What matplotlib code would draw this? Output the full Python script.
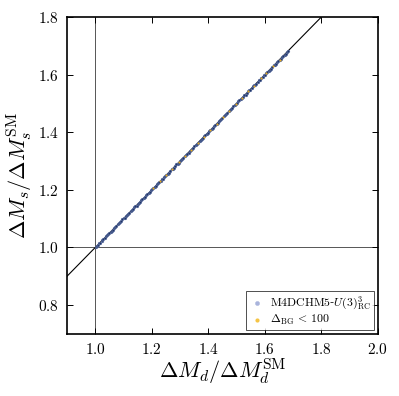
import matplotlib
matplotlib.use("Agg")
import matplotlib.pyplot as plt
import numpy as np

plt.rcParams['mathtext.fontset'] = 'cm'
plt.rcParams['font.family'] = 'serif'
plt.rcParams['font.serif'] = ['DejaVu Serif']

# All-scan points (M4DCHM5-U(3)^3_RC)
scan_x = [1.002, 1.006, 1.010, 1.014, 1.018, 1.022, 1.025, 1.029, 1.033, 1.037,
          1.041, 1.046, 1.050, 1.054, 1.058, 1.062, 1.066, 1.071, 1.075, 1.079,
          1.083, 1.088, 1.092, 1.096, 1.100, 1.104, 1.108, 1.113, 1.117, 1.121,
          1.125, 1.130, 1.134, 1.138, 1.142, 1.146, 1.150, 1.155, 1.159, 1.163,
          1.167, 1.172, 1.176, 1.180, 1.184, 1.189, 1.193, 1.197, 1.201, 1.206,
          1.210, 1.214, 1.218, 1.223, 1.227, 1.231, 1.235, 1.240, 1.244, 1.248,
          1.252, 1.257, 1.261, 1.266, 1.270, 1.274, 1.278, 1.283, 1.287, 1.291,
          1.295, 1.300, 1.304, 1.308, 1.312, 1.317, 1.321, 1.326, 1.330, 1.334,
          1.338, 1.343, 1.347, 1.351, 1.355, 1.360, 1.364, 1.369, 1.373, 1.377,
          1.381, 1.386, 1.390, 1.394, 1.398, 1.403, 1.407, 1.412, 1.416, 1.420,
          1.424, 1.429, 1.433, 1.437, 1.441, 1.446, 1.450, 1.455, 1.459, 1.463,
          1.467, 1.472, 1.476, 1.480, 1.484, 1.489, 1.493, 1.498, 1.502, 1.506,
          1.510, 1.515, 1.519, 1.523, 1.527, 1.532, 1.536, 1.541, 1.545, 1.549,
          1.553, 1.558, 1.562, 1.566, 1.570, 1.575, 1.579, 1.584, 1.588, 1.592,
          1.596, 1.601, 1.605, 1.609, 1.613, 1.618, 1.622, 1.627, 1.631, 1.635,
          1.639, 1.644, 1.648, 1.652, 1.656, 1.661, 1.665, 1.670, 1.674, 1.678,
          1.682]
scan_y = [1.003, 1.006, 1.010, 1.015, 1.017, 1.022, 1.026, 1.029, 1.033, 1.038,
          1.042, 1.045, 1.049, 1.055, 1.058, 1.061, 1.067, 1.071, 1.074, 1.080,
          1.084, 1.087, 1.091, 1.097, 1.101, 1.103, 1.108, 1.114, 1.116, 1.121,
          1.126, 1.129, 1.133, 1.139, 1.143, 1.145, 1.150, 1.156, 1.158, 1.163,
          1.168, 1.171, 1.175, 1.181, 1.185, 1.188, 1.192, 1.198, 1.202, 1.205,
          1.209, 1.215, 1.219, 1.222, 1.226, 1.232, 1.236, 1.239, 1.243, 1.249,
          1.253, 1.256, 1.260, 1.267, 1.271, 1.273, 1.277, 1.284, 1.288, 1.290,
          1.294, 1.301, 1.305, 1.307, 1.311, 1.318, 1.322, 1.325, 1.329, 1.335,
          1.339, 1.342, 1.346, 1.352, 1.356, 1.359, 1.363, 1.370, 1.374, 1.376,
          1.380, 1.387, 1.391, 1.393, 1.397, 1.404, 1.408, 1.411, 1.415, 1.421,
          1.425, 1.428, 1.432, 1.438, 1.442, 1.445, 1.449, 1.456, 1.460, 1.462,
          1.466, 1.473, 1.477, 1.479, 1.483, 1.490, 1.494, 1.497, 1.501, 1.507,
          1.511, 1.514, 1.518, 1.524, 1.528, 1.531, 1.535, 1.542, 1.546, 1.548,
          1.552, 1.559, 1.563, 1.565, 1.569, 1.576, 1.580, 1.583, 1.587, 1.593,
          1.597, 1.600, 1.604, 1.610, 1.614, 1.617, 1.621, 1.628, 1.632, 1.634,
          1.638, 1.645, 1.649, 1.651, 1.655, 1.662, 1.666, 1.669, 1.673, 1.679,
          1.683]

# Fine-tuning-selected points (Delta_BG < 100)
ft_x = [1.205, 1.228, 1.251, 1.272, 1.296, 1.318, 1.340, 1.362, 1.385, 1.407,
        1.430, 1.452, 1.474, 1.497, 1.519, 1.541, 1.563, 1.586, 1.605, 1.628,
        1.652]
ft_y = [1.205, 1.229, 1.250, 1.273, 1.295, 1.319, 1.340, 1.363, 1.384, 1.408,
        1.429, 1.453, 1.473, 1.498, 1.518, 1.542, 1.562, 1.587, 1.604, 1.629,
        1.651]

diag = [0.9, 1.8]

fig = plt.figure(figsize=(3.99, 3.96), dpi=100)
ax = fig.add_axes([0.168, 0.157, 0.779, 0.8])

ax.axvline(1.0, color='#555555', lw=0.7, zorder=1)
ax.axhline(1.0, color='#555555', lw=0.7, zorder=1)
ax.plot(diag, diag, color='black', lw=0.8, zorder=2)

ax.scatter(scan_x, scan_y, s=4, color='#1f3466', edgecolors='#7486b8',
           linewidths=0.3, zorder=3, label=r'$\mathrm{M4DCHM5}$-$U(3)^3_{\mathrm{RC}}$')
ax.scatter(ft_x, ft_y, s=2.2, color='#e8ad25', linewidths=0, zorder=4,
           label=r'$\Delta_{\mathrm{BG}}\,<\,100$')

ax.set_xlim(0.9, 2.0)
ax.set_ylim(0.7, 1.8)

xt = [1.0, 1.2, 1.4, 1.6, 1.8, 2.0]
yt = [0.8, 1.0, 1.2, 1.4, 1.6, 1.8]
ax.set_xticks(xt)
ax.set_xticklabels([r'$%.1f$' % v for v in xt], fontsize=11)
ax.set_yticks(yt)
ax.set_yticklabels([r'$%.1f$' % v for v in yt], fontsize=11)
ax.tick_params(direction='in', length=4, width=0.7, top=True, right=True, pad=6)
for s in ax.spines.values():
    s.set_linewidth(1.2)

ax.set_xlabel(r'$\Delta M_d/\Delta M_d^{\mathrm{SM}}$', fontsize=16, labelpad=0)
ax.set_ylabel(r'$\Delta M_s/\Delta M_s^{\mathrm{SM}}$', fontsize=16, labelpad=2)

leg = ax.legend(loc='lower right', borderaxespad=0.3,
                fontsize=8.5, frameon=True,
                fancybox=False, edgecolor='black', borderpad=0.25,
                handletextpad=0.5, labelspacing=0.15, scatterpoints=1,
                handlelength=1.3)
hs = leg.legend_handles
hs[0].set_facecolor('#a9b4dc'); hs[0].set_edgecolor('#a9b4dc'); hs[0].set_sizes([9])
hs[1].set_facecolor('#f5c445'); hs[1].set_edgecolor('#f5c445'); hs[1].set_sizes([9])
leg.get_frame().set_linewidth(0.6)

fig.savefig('out.png', dpi=100)
